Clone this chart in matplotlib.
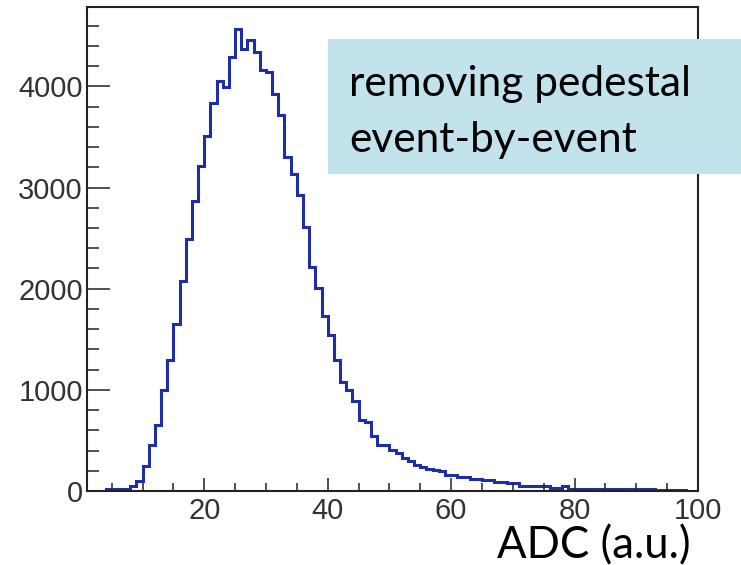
import numpy as np
import matplotlib
matplotlib.use("Agg")
from matplotlib import pyplot as plt
from matplotlib.patches import Rectangle
from matplotlib.ticker import MultipleLocator

plt.rcParams['font.family'] = ['Liberation Sans', 'DejaVu Sans']

# histogram contents, one bin per ADC unit starting at 4
first_bin = 4
counts = [15, 15, 15, 20, 52, 102, 250, 457, 648, 1000,
          1296, 1652, 2079, 2487, 2866, 3215, 3514, 3836, 4057, 3994,
          4290, 4570, 4373, 4462, 4340, 4166, 4142, 3922, 3721, 3303,
          3132, 2928, 2612, 2211, 2004, 1730, 1540, 1296, 1082, 1000,
          891, 697, 680, 539, 457, 450, 408, 375, 322, 292,
          260, 237, 217, 210, 194, 161, 158, 138, 135, 118,
          115, 112, 108, 85, 85, 82, 80, 52, 52, 50,
          50, 48, 30, 28, 45, 20, 20, 20, 20, 20,
          20, 20, 20, 20, 20, 20, 20, 20, 20, 10,
          10, 10, 10, 10]
edges = np.arange(first_bin, first_bin + len(counts) + 1)

x_ticks = [20, 40, 60, 80, 100]
y_ticks = [0, 1000, 2000, 3000, 4000]

fig = plt.figure(figsize=(7.41, 5.65), dpi=100)
ax = fig.add_axes([87/741, 74/565, 611/741, 484/565])

ax.stairs(counts, edges, color="#1f2ea6", lw=2.2)

ax.set_xlim(1, 100)
ax.set_ylim(0, 4785)
ax.set_xticks(x_ticks)
ax.set_yticks(y_ticks)
ax.xaxis.set_minor_locator(MultipleLocator(5))
ax.yaxis.set_minor_locator(MultipleLocator(200))

for s in ax.spines.values():
    s.set_linewidth(1.5)
    s.set_color("#222222")

ax.tick_params(axis="both", which="both", direction="in", color="#222222",
               width=1.1, labelsize=21, labelcolor="#333333")
ax.tick_params(axis="x", which="major", length=9.6, pad=4)
ax.tick_params(axis="x", which="minor", length=5.8)
ax.tick_params(axis="y", which="major", length=16.5, pad=3)
ax.tick_params(axis="y", which="minor", length=8.6)

# annotation box drawn over the frame
box = Rectangle((328/741, 1 - 174/565), (741 - 328)/741, (174 - 39)/565,
                transform=fig.transFigure, facecolor="#c3e3ec", edgecolor="none")
fig.patches.append(box)
fig.text(349/741, 1 - 96/565, "removing pedestal", family="Lato", fontsize=30.5,
         color="black", va="baseline", ha="left")
fig.text(349/741, 1 - 152/565, "event-by-event", family="Lato", fontsize=30.5,
         color="black", va="baseline", ha="left")

fig.text(497/741, 1 - 558/565, "ADC (a.u.)", family="Lato", fontsize=31.5,
         color="black", va="baseline", ha="left")

fig.savefig("out.png", dpi=100)
